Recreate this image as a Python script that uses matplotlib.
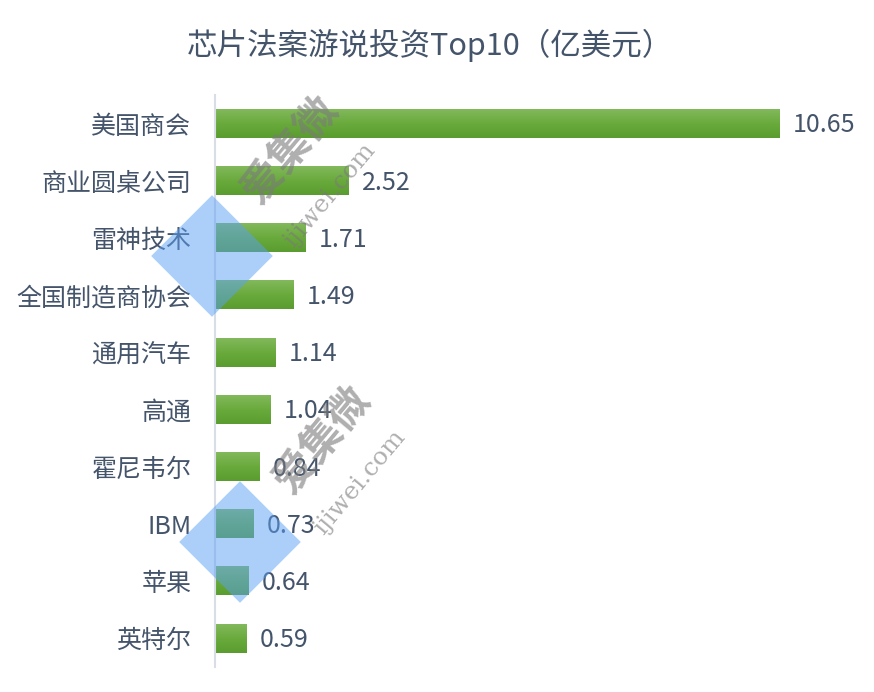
import numpy as np
import matplotlib.pyplot as plt
from matplotlib.colors import LinearSegmentedColormap
from matplotlib.patches import Rectangle
import matplotlib.transforms as mtransforms

plt.rcParams['font.family'] = ['Noto Sans CJK SC', 'DejaVu Sans']

categories = ['美国商会', '商业圆桌公司', '雷神技术', '全国制造商协会', '通用汽车',
              '高通', '霍尼韦尔', 'IBM', '苹果', '英特尔']
values = [10.65, 2.52, 1.71, 1.49, 1.14, 1.04, 0.84, 0.73, 0.64, 0.59]
title = '芯片法案游说投资Top10（亿美元）'

text_color = '#44546a'
grad = LinearSegmentedColormap.from_list('g', ['#82b95c', '#6aaa3c', '#5b9c30'])

fig = plt.figure(figsize=(8.74, 6.92), dpi=100)
ax = fig.add_axes([215 / 874, 25 / 692, 645 / 874, 572 / 692])

y = np.arange(len(categories))
h = 0.5
bars = ax.barh(y, values, height=h, color='#6aaa3c')
g = np.linspace(0, 1, 64).reshape(-1, 1)
for b, v, yi in zip(bars, values, y):
    b.set_visible(False)
    ax.imshow(g, cmap=grad, aspect='auto', interpolation='bilinear',
              extent=[0, v, yi + h / 2, yi - h / 2], zorder=2)
    ax.text(v + 0.25, yi + 0.03, '%.2f' % v, va='center', ha='left',
            fontsize=18, color=text_color, zorder=3)

ax.set_xlim(0, 645 / 52.96)
ax.set_ylim(len(categories) - 0.5, -0.5)
ax.set_yticks(y)
ax.set_yticklabels(categories, fontsize=18, color=text_color)
ax.tick_params(axis='y', length=0, pad=17)
ax.set_xticks([])
for s in ['top', 'right', 'bottom']:
    ax.spines[s].set_visible(False)
ax.spines['left'].set_color('#d9dee6')
ax.spines['left'].set_linewidth(1.5)

fig.text(430 / 874, 1 - 45 / 692, title, ha='center', va='center',
         fontsize=22, fontweight='medium', color=text_color)

# watermarks
for (wx, wy), (cx, cy), (dx, dy) in [((290, 150), (330, 195), (212, 256)),
                                      ((322, 440), (360, 482), (240, 542))]:
    fig.text(wx / 874, 1 - wy / 692, '爱集微', rotation=50, ha='center',
             va='center', fontsize=30, fontweight='bold', color='#7a7a7a',
             alpha=0.6, zorder=5)
    fig.text(cx / 874, 1 - cy / 692, 'ijiwei.com', rotation=50, ha='center',
             va='center', fontsize=18, family='DejaVu Serif', color='#7a7a7a',
             alpha=0.6, zorder=5)
    side = 86
    tr = mtransforms.Affine2D().rotate_deg_around(dx, 692 - dy, 45)
    r = Rectangle((dx - side / 2, 692 - dy - side / 2), side, side,
                  facecolor='#5aa0f5', alpha=0.5, edgecolor='none',
                  transform=tr + mtransforms.IdentityTransform(), zorder=4)
    fig.patches.append(r)

fig.savefig('out.png', dpi=100)
